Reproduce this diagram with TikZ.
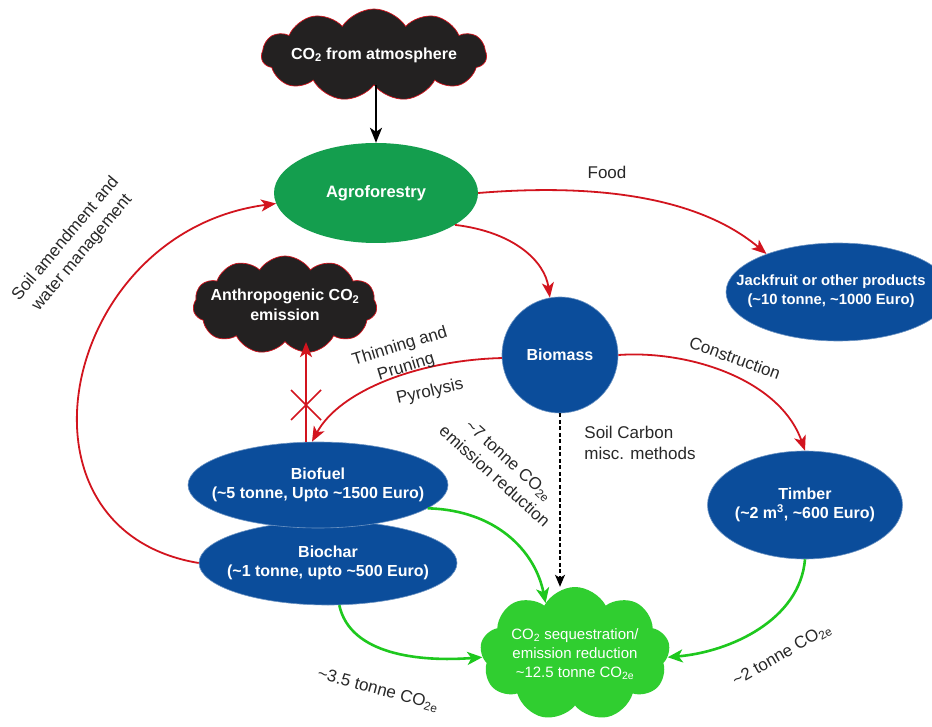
\documentclass[tikz,border=0pt]{standalone}
\usepackage{fontspec}
\setmainfont{Liberation Sans}
\usetikzlibrary{shapes.geometric,shapes.symbols,arrows.meta}
\definecolor{nblue}{RGB}{11,77,155}
\definecolor{agrogreen}{RGB}{20,158,78}
\definecolor{cloudgreen}{RGB}{48,206,48}
\definecolor{arrgreen}{RGB}{30,200,30}
\definecolor{nred}{RGB}{210,20,30}
\definecolor{cloudblack}{RGB}{35,33,33}
\definecolor{labgray}{RGB}{40,40,40}
\newcommand\mynodefont{\fontsize{16}{19.5}\selectfont\bfseries}
\newcommand\mylabfont{\fontsize{17}{21.5}\selectfont}
\begin{document}
\begin{tikzpicture}[x=1pt,y=-1pt,
  blueell/.style={ellipse, fill=nblue, draw=nblue!60!white, line width=0.6pt, inner sep=0pt},
  whitetext/.style={text=white, font=\mynodefont, align=center},
  blackcloud/.style={cloud, cloud puffs=11, cloud puff arc=115, cloud ignores aspect, fill=cloudblack, draw=nred, line width=0.7pt, inner sep=0pt},
  greencloud/.style={cloud, cloud puffs=9, cloud puff arc=125, cloud ignores aspect, fill=cloudgreen, draw=none, inner sep=0pt},
  lab/.style={text=labgray, font=\mylabfont, align=center},
  redarr/.style={draw=nred, line width=1.8pt, -{Stealth[length=15pt,width=12pt,inset=4pt]}},
  greenarr/.style={draw=arrgreen, line width=2.6pt, -{Stealth[length=15pt,width=13pt,inset=4pt]}},
  blackarr/.style={draw=black, line width=1.8pt, -{Stealth[length=15pt,width=12pt,inset=4pt]}},
  dasharr/.style={draw=black, line width=1.4pt, dash pattern=on 4pt off 2.5pt, -{Stealth[length=12pt,width=10pt,inset=3pt]}}
]
\useasboundingbox[fill=white] (0,0) rectangle (932,727);

% clouds
\node[blackcloud, minimum width=225pt, minimum height=92pt] (atm) at (374,55) {};
\node[whitetext] at (atm) {CO\textsubscript{2} from atmosphere};

\node[blackcloud, minimum width=184pt, minimum height=98pt] (anth) at (285,305) {};
\node[whitetext] at (anth) {Anthropogenic CO\textsubscript{2}\\emission};

\node[greencloud, minimum width=190pt, minimum height=134pt] (gcloud) at (575,654) {};
\node[text=white, font=\fontsize{15}{19}\selectfont, align=center] at (gcloud) {CO\textsubscript{2} sequestration/\\emission reduction\\\textasciitilde 12.5 tonne CO\textsubscript{2e}};

% ellipses
\node[ellipse, fill=agrogreen, inner sep=0pt, minimum width=204pt, minimum height=100pt] (agro) at (376,193) {};
\node[text=white, font=\fontsize{16.5}{19}\selectfont\bfseries] at (agro) {Agroforestry};

\node[blueell, minimum width=224pt, minimum height=98pt] (jack) at (838,292) {};
\node[text=white, align=center, font=\fontsize{14.8}{19}\selectfont\bfseries] at (831,291) {Jackfruit or other products\\(\textasciitilde 10 tonne, \textasciitilde 1000 Euro)};

\node[circle, fill=nblue, draw=nblue!60!white, line width=0.6pt, inner sep=0pt, minimum size=116pt] (bio) at (560,355) {};
\node[whitetext] at (bio) {Biomass};

\node[blueell, minimum width=258pt, minimum height=84pt] (biochar) at (328,563) {};
\node[whitetext] at (biochar) {Biochar\\(\textasciitilde 1 tonne, upto \textasciitilde 500 Euro)};

\node[blueell, minimum width=260pt, minimum height=86pt] (biofuel) at (318,485) {};
\node[whitetext] at (biofuel) {Biofuel\\(\textasciitilde 5 tonne, Upto \textasciitilde 1500 Euro)};

\node[blueell, minimum width=195pt, minimum height=108pt] (timber) at (805,505) {};
\node[whitetext] at (timber) {Timber\\(\textasciitilde 2 m\textsuperscript{3}, \textasciitilde 600 Euro)};

% connectors
\draw[blackarr] (agro.north |- atm.south) -- (agro.north);
\draw[redarr] (agro.east) .. controls (600,183) and (700,198) .. (jack.152);
\draw[redarr] (agro.-22) .. controls (515,232) and (545,262) .. (bio.100);
\draw[redarr] (bio.183) .. controls (420,360) and (340,390) .. ([xshift=-6pt]biofuel.north);
\draw[redarr] ([xshift=-12pt]biofuel.north) -- ([xshift=-12pt]biofuel.north |- anth.south);
\coordinate (xmark) at (306,405);
\draw[nred, line width=1.6pt] (xmark) ++(-15,-15) -- ++(30,30);
\draw[nred, line width=1.6pt] (xmark) ++(15,-15) -- ++(-30,30);
\draw[redarr] (bio.east) .. controls (690,350) and (780,380) .. (timber.north);
\draw[dasharr] (bio.south) -- (bio.south |- gcloud.north);
\draw[greenarr] (biofuel.-12) .. controls (495,510) and (535,550) .. (gcloud.120);
\draw[greenarr] (biochar.-75) .. controls (350,655) and (420,662) .. (gcloud.182);
\draw[greenarr] (timber.south) .. controls (800,620) and (730,652) .. (gcloud.-2);
\draw[redarr] (biochar.west) .. controls (0,530) and (60,232) .. (agro.186);

% labels
\node[lab] at (607,172) {Food};
\node[lab, rotate=50] at (74,246) {Soil amendment and\\water management};
\node[lab, rotate=17] at (403,357) {Thinning and\\Pruning};
\node[lab, rotate=13] at (430,392) {Pyrolysis};
\node[lab, rotate=-20] at (735,358) {Construction};
\node[lab, align=left] at (640,443) {Soil Carbon\\misc. methods};
\node[lab, rotate=-42] at (502,468) {\textasciitilde 7 tonne CO\textsubscript{2e}\\emission reduction};
\node[lab, rotate=-15] at (378,690) {\textasciitilde 3.5 tonne CO\textsubscript{2e}};
\node[lab, rotate=30] at (782,655) {\textasciitilde 2 tonne CO\textsubscript{2e}};
\end{tikzpicture}
\end{document}
